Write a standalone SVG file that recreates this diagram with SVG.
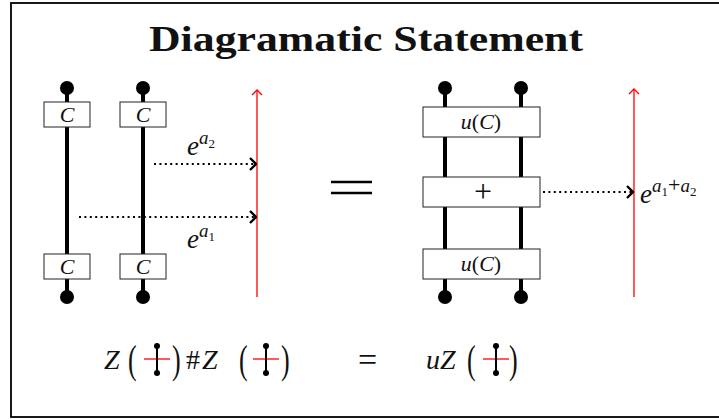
<svg xmlns="http://www.w3.org/2000/svg" width="719" height="419" viewBox="0 0 719 419">
<style>
.strand{stroke:#000;stroke-width:4;fill:none}
.box{fill:#fff;stroke:#222;stroke-width:1}
.red{stroke:#f00;stroke-width:1.3;fill:none}
.dot{stroke:#000;stroke-width:2;fill:none;stroke-dasharray:2 3.4}
.m{font-family:"Liberation Serif",serif;font-style:italic;fill:#111}
.r{font-family:"Liberation Serif",serif;font-style:normal;fill:#111}
.mini{stroke:#000;stroke-width:2}
</style>
<defs>
<marker id="chev" viewBox="0 0 8 14" refX="7" refY="7" markerWidth="8" markerHeight="14" markerUnits="userSpaceOnUse" orient="auto">
<path d="M1,1 L7,7 L1,13" fill="none" stroke="#000" stroke-width="2.4"/>
</marker>
<marker id="rchev" viewBox="0 0 12 8" refX="6" refY="1" markerWidth="12" markerHeight="8" markerUnits="userSpaceOnUse" orient="0">
<path d="M1,6 L6,1 L11,6" fill="none" stroke="#f00" stroke-width="1.3"/>
</marker>
</defs>
<rect x="11" y="3" width="720" height="414" fill="#fff" stroke="#000" stroke-width="1.8"/>
<text x="366" y="51" text-anchor="middle" font-family="'Liberation Serif',serif" font-weight="bold" font-size="35" textLength="434" lengthAdjust="spacingAndGlyphs" fill="#111">Diagramatic Statement</text>

<g id="left-strand-1">
<line class="strand" x1="67" y1="89" x2="67" y2="297"/>
<circle cx="67" cy="88" r="7"/>
<circle cx="67" cy="297" r="7"/>
<rect class="box" x="44" y="102" width="46" height="25"/>
<text class="m" x="67" y="122" font-size="22" text-anchor="middle">C</text>
<rect class="box" x="44" y="254" width="46" height="25"/>
<text class="m" x="67" y="274" font-size="22" text-anchor="middle">C</text>
</g>
<g id="left-strand-2">
<line class="strand" x1="143" y1="89" x2="143" y2="297"/>
<circle cx="143" cy="88" r="7"/>
<circle cx="143" cy="297" r="7"/>
<rect class="box" x="120" y="102" width="46" height="25"/>
<text class="m" x="143" y="122" font-size="22" text-anchor="middle">C</text>
<rect class="box" x="120" y="254" width="46" height="25"/>
<text class="m" x="143" y="274" font-size="22" text-anchor="middle">C</text>
</g>
<g id="left-red-line">
<line class="red" x1="257" y1="297" x2="257" y2="90" marker-end="url(#rchev)"/>
</g>
<g id="eq-sign">
<line x1="331" y1="182" x2="372" y2="182" stroke="#000" stroke-width="2.6"/>
<line x1="331" y1="193" x2="372" y2="193" stroke="#000" stroke-width="2.6"/>
</g>
<g id="right-strands">
<line class="strand" x1="445" y1="89" x2="445" y2="297"/>
<line class="strand" x1="521" y1="89" x2="521" y2="297"/>
<circle cx="445" cy="88" r="7"/>
<circle cx="521" cy="88" r="7"/>
<circle cx="445" cy="297" r="7"/>
<circle cx="521" cy="297" r="7"/>
</g>
<g id="box-uC-top">
<rect class="box" x="423" y="107" width="117" height="30"/>
<text class="m" x="481" y="129" font-size="22" text-anchor="middle">u<tspan class="r">(</tspan>C<tspan class="r">)</tspan></text>
</g>
<g id="box-plus">
<rect class="box" x="423" y="177" width="117" height="30"/>
<text class="r" x="483" y="202" font-size="32" text-anchor="middle">+</text>
</g>
<g id="box-uC-bottom">
<rect class="box" x="423" y="249" width="117" height="30"/>
<text class="m" x="481" y="271" font-size="22" text-anchor="middle">u<tspan class="r">(</tspan>C<tspan class="r">)</tspan></text>
</g>
<g id="right-red-line">
<line class="red" x1="634" y1="297" x2="634" y2="89" marker-end="url(#rchev)"/>
</g>
<g id="connectors">
<line class="dot" x1="154" y1="164" x2="256" y2="164" marker-end="url(#chev)"/>
<line class="dot" x1="79" y1="217" x2="256" y2="217" marker-end="url(#chev)"/>
<line class="dot" x1="543" y1="192" x2="633" y2="192" marker-end="url(#chev)"/>
</g>
<g id="labels">
<text class="m" x="187" y="155" font-size="27">e<tspan dy="-11" font-size="19">a</tspan><tspan class="r" dy="4" font-size="13">2</tspan></text>
<text class="m" x="187" y="248" font-size="27">e<tspan dy="-11" font-size="19">a</tspan><tspan class="r" dy="4" font-size="13">1</tspan></text>
<text class="m" x="640" y="203" font-size="27">e<tspan dy="-11" font-size="19">a</tspan><tspan class="r" dy="4" font-size="13">1</tspan><tspan class="r" dy="-4" font-size="22">+</tspan><tspan font-size="19">a</tspan><tspan class="r" dy="4" font-size="13">2</tspan></text>
</g>
<g id="formula">
<text class="m" x="104" y="369" font-size="28">Z</text>
<text class="r" x="128" y="373" font-size="40" transform="translate(128 373) scale(0.65 1) translate(-128 -373)">(</text>
<line class="red" x1="144" y1="359" x2="170" y2="359"/>
<line class="mini" x1="157" y1="346" x2="157" y2="373"/>
<circle cx="157" cy="346" r="3"/>
<circle cx="157" cy="373" r="3"/>
<text class="r" x="172" y="373" font-size="40" transform="translate(172 373) scale(0.65 1) translate(-172 -373)">)</text>
<text class="r" x="186" y="369" font-size="28">#</text>
<text class="m" x="202" y="369" font-size="28">Z</text>
<text class="r" x="239" y="373" font-size="40" transform="translate(239 373) scale(0.65 1) translate(-239 -373)">(</text>
<line class="red" x1="253" y1="359" x2="279" y2="359"/>
<line class="mini" x1="266" y1="346" x2="266" y2="373"/>
<circle cx="266" cy="346" r="3"/>
<circle cx="266" cy="373" r="3"/>
<text class="r" x="281" y="373" font-size="40" transform="translate(281 373) scale(0.65 1) translate(-281 -373)">)</text>
<text class="r" x="358" y="371" font-size="34">=</text>
<text class="m" x="426" y="369" font-size="28">uZ</text>
<text class="r" x="467" y="373" font-size="40" transform="translate(467 373) scale(0.65 1) translate(-467 -373)">(</text>
<line class="red" x1="483" y1="359" x2="509" y2="359"/>
<line class="mini" x1="496" y1="346" x2="496" y2="373"/>
<circle cx="496" cy="346" r="3"/>
<circle cx="496" cy="373" r="3"/>
<text class="r" x="509" y="373" font-size="40" transform="translate(509 373) scale(0.65 1) translate(-509 -373)">)</text>
</g>
</svg>
